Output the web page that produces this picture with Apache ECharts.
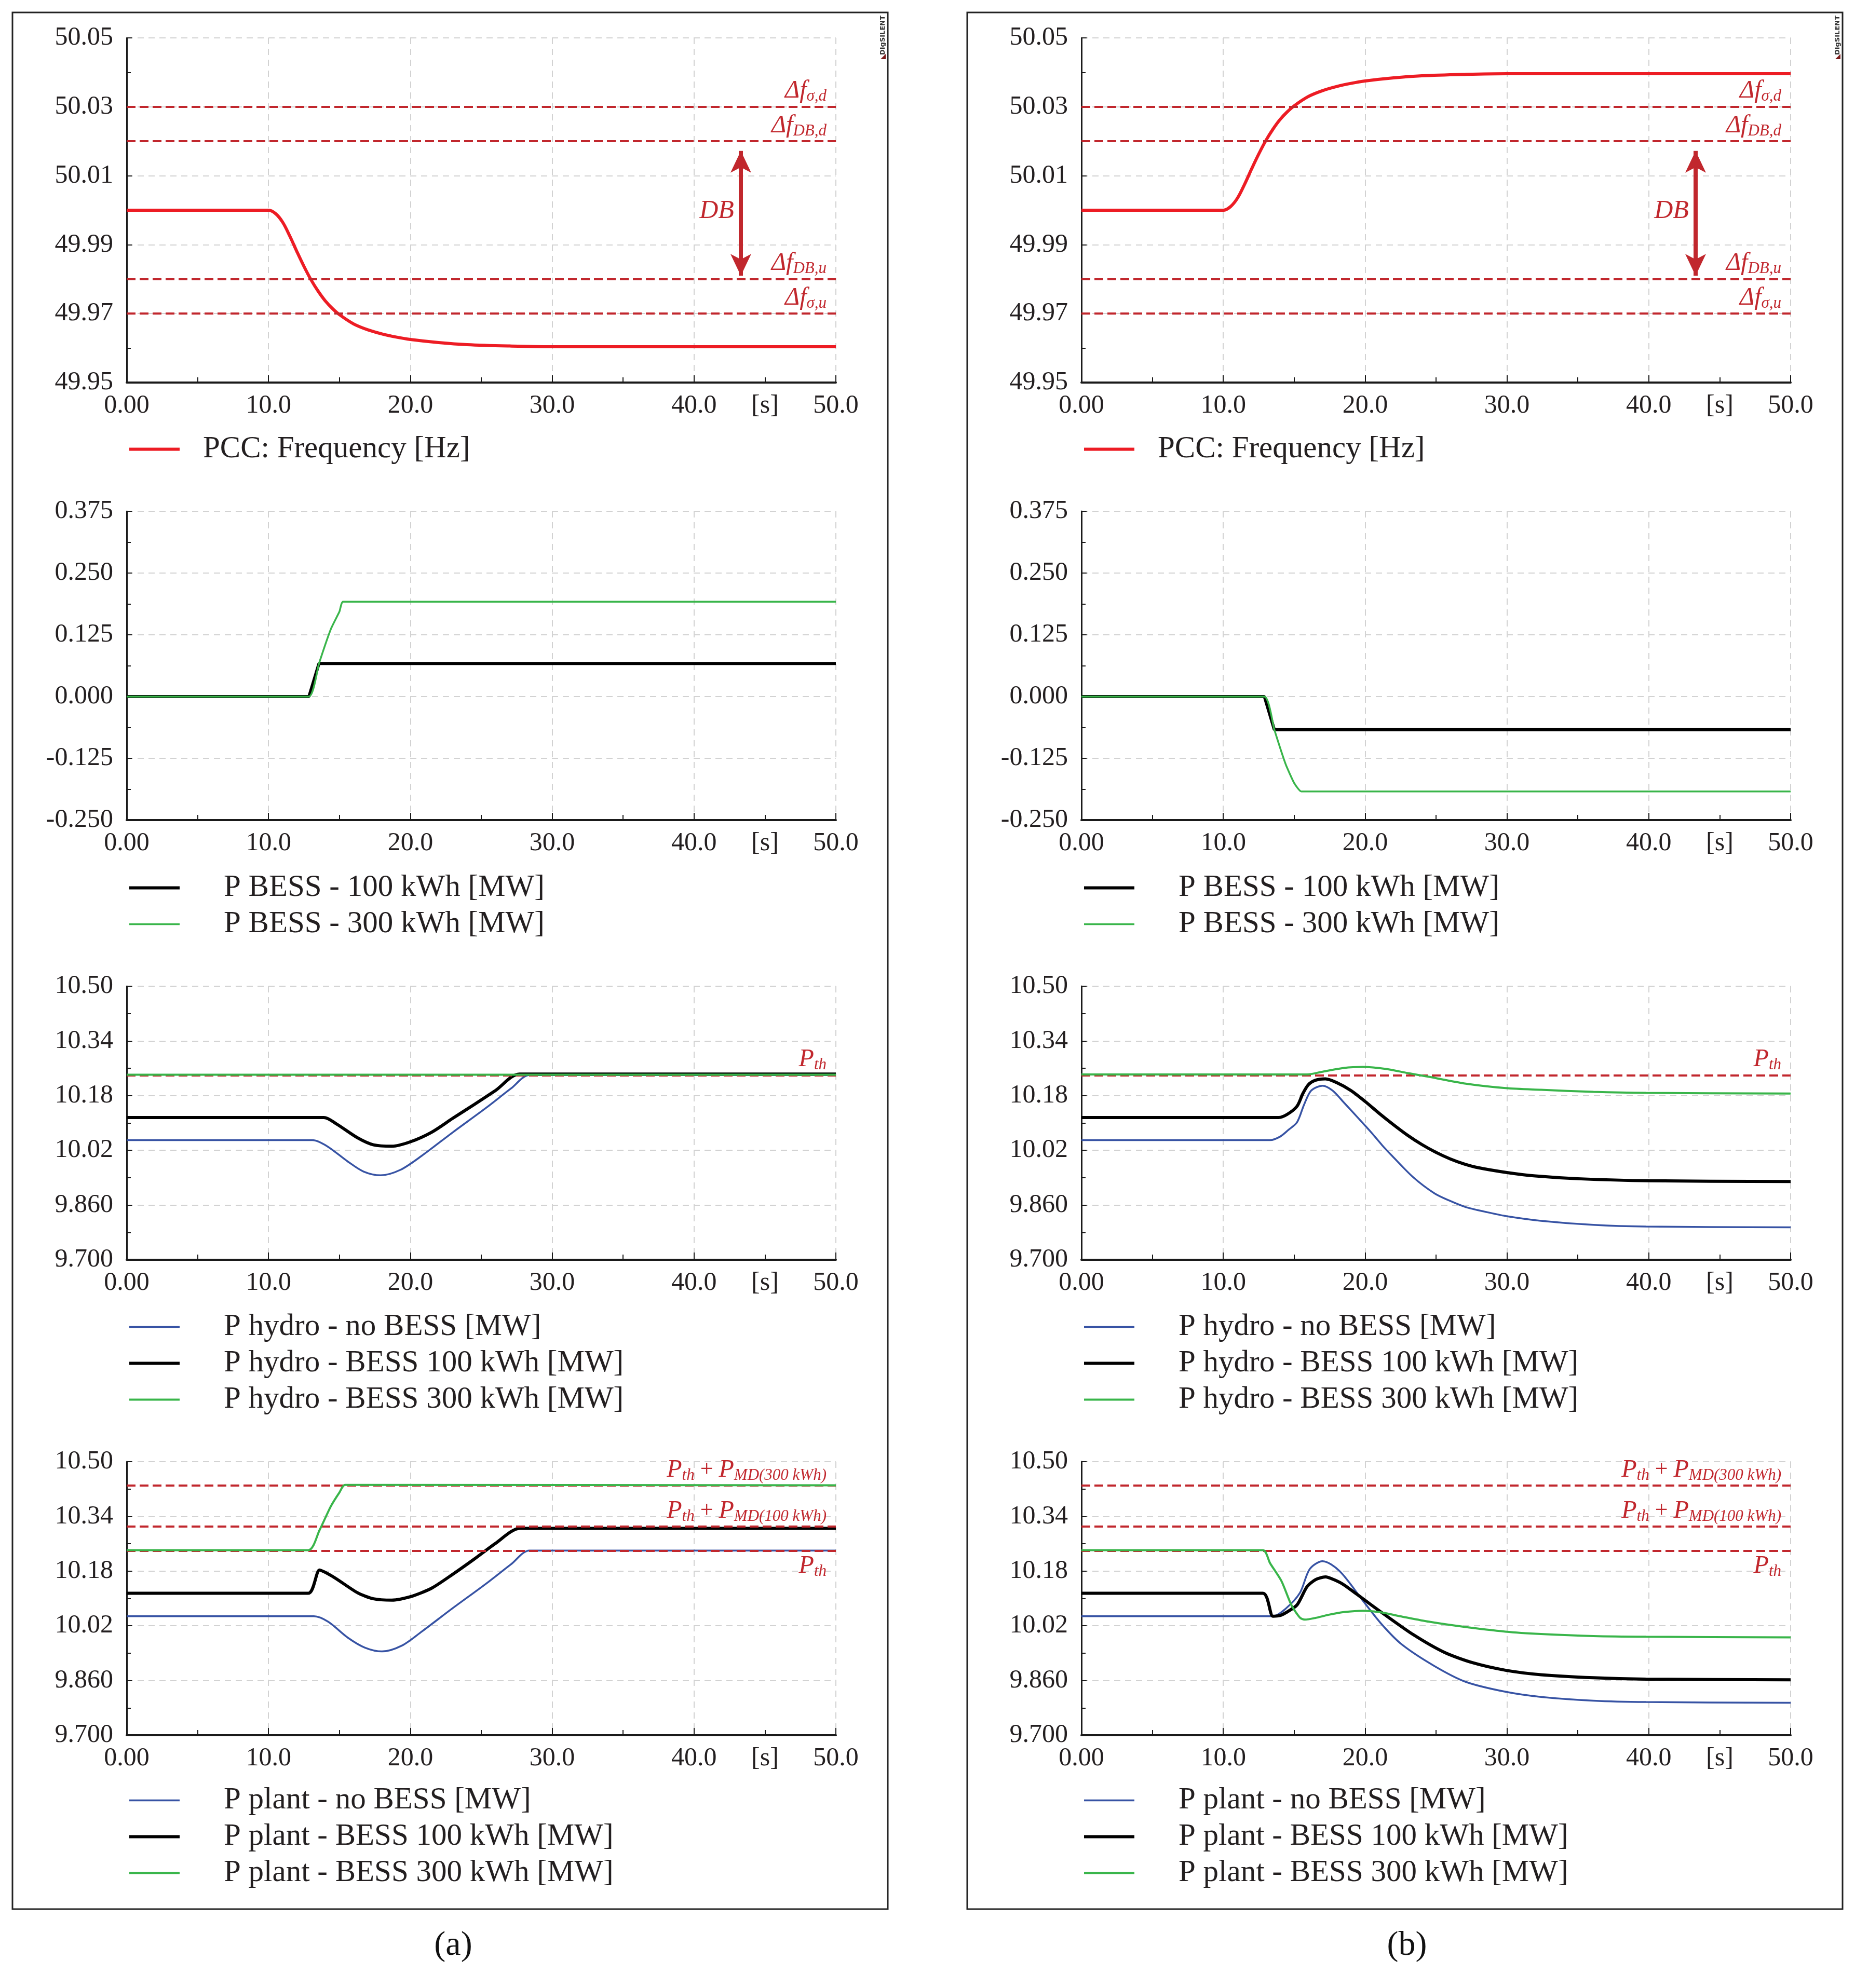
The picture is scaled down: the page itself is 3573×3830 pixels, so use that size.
<!DOCTYPE html>
<html>
<head>
<meta charset="utf-8">
<script src="https://cdn.jsdelivr.net/npm/echarts@6/dist/echarts.min.js"></script>
<style>
html, body { margin: 0; padding: 0; background: #fff; }
#chart { width: 3573px; height: 3830px; }
</style>
</head>
<body>
<div id="chart"></div>
<script>
// ---- axes ----
const timeTicks = [0, 10, 20, 30, 40, 50];
const timeMinor = [5, 15, 25, 35, 45];
const timeLabels = [0, 10, 20, 30, 40, 45, 50];

const freqTicks = [49.95, 49.97, 49.99, 50.01, 50.03, 50.05];
const freqMinor = [49.96, 49.98, 50.00, 50.02, 50.04];
const bessTicks = [-0.25, -0.125, 0, 0.125, 0.25, 0.375];
const bessMinor = [-0.1875, -0.0625, 0.0625, 0.1875, 0.3125];
const powerTicks = [9.70, 9.86, 10.02, 10.18, 10.34, 10.50];
const powerMinor = [9.78, 9.94, 10.10, 10.26, 10.42];

// ---- reference levels ----
const freqLimits = [50.03, 50.02, 49.98, 49.97];
const freqLimitSubs = ['σ,d', 'DB,d', 'DB,u', 'σ,u'];
const dbArrow = [43.3, 50.0172, 49.981];   // t, top, bottom
const pTh = 10.24;
const pThMD100 = 10.307;
const pThMD300 = 10.432;

// ---- (a) frequency drop ----
const freqA = [[0,50.0],[10,50.0],[10.5,49.999],[11,49.9965],[11.5,49.9925],[12,49.988],[12.5,49.9837],[13,49.9798],[13.5,49.9765],[14,49.9737],[14.5,49.9715],[15,49.9697],[16,49.967],[17,49.9653],[18,49.9641],[19,49.9632],[20,49.9625],[22,49.9616],[24,49.961],[27,49.9606],[30,49.9604],[50,49.9604]];
const bessA100 = [[0,0],[12.85,0],[13.56,0.067],[50,0.067]];
const bessA300 = [[0,0],[12.85,0],[13.56,0.067],[14.4,0.137],[15.0,0.172],[15.25,0.192],[50,0.192]];
const hydroA0 = [[0,10.05],[13.1,10.05],[14.1,10.033],[15.6,9.987],[16.7,9.958],[17.9,9.947],[19.3,9.963],[20.8,10.004],[23.0,10.073],[25.3,10.143],[27.1,10.201],[28.4,10.24],[50,10.24]];
const hydroA100 = [[0,10.116],[13.9,10.116],[14.8,10.097],[16.3,10.056],[17.4,10.036],[18.7,10.032],[20.0,10.045],[21.5,10.073],[23.0,10.114],[24.5,10.154],[26.0,10.195],[27.7,10.243],[50,10.243]];
const hydroA300 = [[0,10.241],[50,10.241]];
const plantA0 = [[0,10.048],[13.2,10.048],[14.2,10.032],[15.6,9.985],[16.8,9.956],[18.0,9.945],[19.4,9.962],[20.8,10.003],[23.0,10.072],[25.3,10.142],[27.1,10.200],[28.4,10.24],[50,10.24]];
const plantA100 = [[0,10.115],[12.8,10.115],[13.6,10.183],[14.2,10.172],[14.8,10.157],[16.3,10.116],[17.4,10.099],[18.7,10.095],[20.0,10.105],[21.5,10.130],[23.0,10.171],[24.5,10.215],[26.0,10.261],[27.7,10.305],[50,10.305]];
const plantA300 = [[0,10.241],[12.8,10.241],[13.6,10.30],[14.4,10.37],[15.0,10.41],[15.4,10.432],[50,10.431]];

// ---- (b) frequency rise ----
const freqB = [[0,50.0],[10,50.0],[10.5,50.001],[11,50.0035],[11.5,50.0075],[12,50.012],[12.5,50.0163],[13,50.0202],[13.5,50.0235],[14,50.0263],[14.5,50.0285],[15,50.0303],[16,50.033],[17,50.0347],[18,50.0359],[19,50.0368],[20,50.0375],[22,50.0384],[24,50.039],[27,50.0394],[30,50.0396],[50,50.0396]];
const bessB100 = [[0,0],[12.9,0],[13.6,-0.067],[50,-0.067]];
const bessB300 = [[0,0],[12.9,0],[13.6,-0.067],[14.4,-0.137],[15.0,-0.175],[15.5,-0.192],[50,-0.192]];
const hydroB0 = [[0,10.05],[13.3,10.05],[14.0,10.06],[14.6,10.08],[15.2,10.102],[15.7,10.154],[16.2,10.195],[17.0,10.209],[17.7,10.195],[18.5,10.160],[19.5,10.115],[20.4,10.074],[21.2,10.035],[21.9,10.004],[23.4,9.941],[24.9,9.894],[26.0,9.872],[27.1,9.854],[28.5,9.840],[29.9,9.828],[32.4,9.814],[36.1,9.802],[39.8,9.797],[50,9.795]];
const hydroB100 = [[0,10.116],[13.9,10.116],[14.5,10.125],[15.2,10.149],[15.6,10.185],[16.0,10.212],[16.5,10.225],[17.2,10.229],[18.0,10.218],[19.0,10.195],[20.0,10.163],[21.0,10.128],[22.0,10.095],[23.0,10.064],[24.0,10.037],[25.0,10.014],[26.0,9.995],[27.0,9.980],[28.0,9.969],[30.0,9.955],[32.0,9.945],[35.0,9.937],[40.0,9.931],[50,9.929]];
const hydroB300 = [[0,10.242],[15.9,10.242],[17.0,10.250],[18.5,10.261],[19.85,10.264],[21.5,10.258],[23.0,10.246],[24.5,10.235],[27.1,10.215],[29.9,10.202],[32.4,10.197],[36.1,10.191],[39.8,10.188],[50,10.186]];
const plantB0 = [[0,10.048],[13.5,10.048],[14.4,10.070],[15.4,10.116],[16.1,10.186],[17.0,10.209],[18.2,10.180],[19.85,10.093],[21.2,10.023],[22.6,9.965],[24.9,9.902],[27.1,9.856],[29.9,9.827],[32.4,9.812],[36.1,9.801],[39.8,9.797],[50,9.795]];
const plantB100 = [[0,10.115],[12.8,10.115],[13.5,10.048],[14.0,10.050],[14.4,10.058],[15.2,10.081],[15.9,10.134],[16.5,10.155],[17.2,10.163],[17.8,10.155],[18.5,10.140],[19.85,10.099],[21.2,10.058],[23.4,9.994],[25.6,9.942],[27.5,9.913],[29.9,9.890],[32.4,9.877],[36.1,9.868],[39.8,9.864],[50,9.862]];
const plantB300 = [[0,10.241],[12.8,10.241],[13.3,10.203],[14.1,10.151],[14.8,10.081],[15.4,10.044],[15.75,10.038],[16.5,10.043],[17.4,10.052],[18.5,10.060],[19.85,10.064],[21.0,10.060],[22.6,10.047],[24.5,10.032],[26.8,10.018],[29.9,10.003],[32.4,9.996],[36.1,9.990],[39.8,9.988],[50,9.986]];

const FONT = '"Liberation Serif", "DejaVu Serif", serif';
const TXT = '#231f20';
const RED = '#ED1C24', DRED = '#C1272D', GREEN = '#39B54A', BLUE = '#3753A4', BLACK = '#000000';

// layout (px)
const colLeft = [244, 2083];
const plotW = 1366;
const rows = [
    { top: 73, h: 664, legendTop: 831, pad: 40 },
    { top: 985, h: 595, legendTop: 1676, pad: 80 },
    { top: 1900, h: 527, legendTop: 2522, pad: 80 },
    { top: 2816, h: 527, legendTop: 3434, pad: 80 }
];

const annRich = {
    m: { fontFamily: FONT, fontStyle: 'italic', fontSize: 48, color: DRED, lineHeight: 52 },
    s: { fontFamily: FONT, fontStyle: 'italic', fontSize: 31, color: DRED, lineHeight: 38, verticalAlign: 'bottom' },
    p: { fontFamily: FONT, fontSize: 44, color: DRED, lineHeight: 52 }
};

const grids = [], xAxes = [], yAxes = [], series = [], legends = [];

function fmtTime (v) {
    if (v === 0) return '0.00';
    if (v === 45) return '[s]';
    return v.toFixed(1);
}

// plain line for legend, as thick as the series line
function lineIcon (w) {
    return 'path://M0,0H97V' + w + 'H0Z';
}

function addPanel (col, row, yTicks, yMinor, yFmt, lines, markLine, markPoint) {
    const gi = grids.length;
    const r = rows[row];
    grids.push({ left: colLeft[col], top: r.top, width: plotW, height: r.h });
    const xi = xAxes.length;
    xAxes.push({
        type: 'value', gridIndex: gi, position: 'bottom', min: 0, max: 50,
        axisLine: { show: true, onZero: false, lineStyle: { color: '#1a1a1a', width: 4 } },
        axisTick: { show: true, inside: true, length: 14, customValues: timeTicks, lineStyle: { color: '#1a1a1a', width: 2 } },
        axisLabel: { customValues: timeLabels, formatter: fmtTime, fontSize: 50, fontFamily: FONT, color: TXT, margin: 20 },
        splitLine: { show: true, lineStyle: { color: '#d2d2d2', width: 2, type: [12, 9] } }
    });
    xAxes.push({
        type: 'value', gridIndex: gi, position: 'bottom', min: 0, max: 50,
        axisLine: { show: false, onZero: false }, axisLabel: { show: false }, splitLine: { show: false },
        axisTick: { show: true, inside: true, length: 10, customValues: timeMinor, lineStyle: { color: '#1a1a1a', width: 2 } }
    });
    const yi = yAxes.length;
    const ymin = yTicks[0], ymax = yTicks[yTicks.length - 1];
    yAxes.push({
        type: 'value', gridIndex: gi, position: 'left', min: ymin, max: ymax,
        axisLine: { show: true, onZero: false, lineStyle: { color: '#1a1a1a', width: 3 } },
        axisTick: { show: true, inside: true, length: 10, customValues: yTicks, lineStyle: { color: '#1a1a1a', width: 2 } },
        axisLabel: { customValues: yTicks, formatter: yFmt, fontSize: 50, fontFamily: FONT, color: TXT, margin: 26 },
        splitLine: { show: true, lineStyle: { color: '#d2d2d2', width: 2, type: [12, 9] } }
    });
    yAxes.push({
        type: 'value', gridIndex: gi, position: 'left', min: ymin, max: ymax,
        axisLine: { show: false, onZero: false }, axisLabel: { show: false }, splitLine: { show: false },
        axisTick: { show: true, inside: true, length: 8, customValues: yMinor, lineStyle: { color: '#1a1a1a', width: 2 } }
    });
    lines.forEach(function (l, i) {
        const s = {
            type: 'line', name: l.name, data: l.data, xAxisIndex: xi, yAxisIndex: yi,
            symbol: 'none', showSymbol: false, smooth: l.smooth || false,
            color: l.color, lineStyle: { color: l.color, width: l.width },
            z: 3 + i, animation: false
        };
        if (i === 0 && markLine) s.markLine = markLine;
        if (i === 0 && markPoint) s.markPoint = markPoint;
        series.push(s);
    });
    legends.push({
        orient: 'vertical', left: colLeft[col], top: r.legendTop,
        itemWidth: 97, itemHeight: 14, itemGap: 11, selectedMode: false,
        data: lines.map(function (l) { return { name: l.name, icon: lineIcon(l.width) }; }),
        textStyle: { fontFamily: FONT, fontSize: 59, color: TXT, lineHeight: 58, padding: [0, 0, 0, r.pad] }
    });
}

const fmt2 = function (v) { return v.toFixed(2); };
const fmt3 = function (v) { return v.toFixed(3); };
const fmtP = function (v) { return v >= 10 ? v.toFixed(2) : v.toFixed(3); };

function freqMarkLine () {
    const data = freqLimits.map(function (v, i) {
        return { yAxis: v, label: { formatter: '{m|Δf}{s|' + freqLimitSubs[i] + '}' } };
    });
    data.push([
        { coord: [dbArrow[0], dbArrow[1]], symbol: 'arrow', symbolSize: [30, 42],
          lineStyle: { type: 'solid', width: 8, color: DRED }, label: { show: false } },
        { coord: [dbArrow[0], dbArrow[2]], symbol: 'arrow', symbolSize: [30, 42],
          lineStyle: { type: 'solid', width: 8, color: DRED }, label: { show: false } }
    ]);
    return {
        silent: true, animation: false, symbol: ['none', 'none'],
        lineStyle: { color: DRED, width: 4, type: [17, 8] },
        label: { show: true, position: 'insideEndTop', distance: [18, 4], rich: annRich },
        emphasis: { disabled: true },
        data: data
    };
}
function dbPoint () {
    return {
        silent: true, animation: false, symbol: 'rect', symbolSize: 0,
        data: [{ coord: [41.6, 49.9997], label: { show: true, position: 'inside', formatter: 'DB',
            fontFamily: FONT, fontStyle: 'italic', fontSize: 50, color: DRED } }]
    };
}
function thLine (withMD) {
    const data = [];
    if (withMD) {
        data.push({ yAxis: pThMD300, label: { formatter: '{m|P}{s|th}{p| + }{m|P}{s|MD(300 kWh)}' } });
        data.push({ yAxis: pThMD100, label: { formatter: '{m|P}{s|th}{p| + }{m|P}{s|MD(100 kWh)}' } });
        data.push({ yAxis: pTh, label: { position: 'insideEndBottom', formatter: '{m|P}{s|th}' } });
    } else {
        data.push({ yAxis: pTh, label: { formatter: '{m|P}{s|th}' } });
    }
    return {
        silent: true, animation: false, symbol: ['none', 'none'],
        lineStyle: { color: DRED, width: 4, type: [17, 8] },
        label: { show: true, position: 'insideEndTop', distance: [18, 4], rich: annRich },
        emphasis: { disabled: true },
        data: data
    };
}

const sets = [
    { freq: freqA, b100: bessA100, b300: bessA300, h0: hydroA0, h100: hydroA100, h300: hydroA300, p0: plantA0, p100: plantA100, p300: plantA300 },
    { freq: freqB, b100: bessB100, b300: bessB300, h0: hydroB0, h100: hydroB100, h300: hydroB300, p0: plantB0, p100: plantB100, p300: plantB300 }
];

sets.forEach(function (d, col) {
    addPanel(col, 0, freqTicks, freqMinor, fmt2, [
        { name: 'PCC: Frequency [Hz]', data: d.freq, color: RED, width: 6, smooth: 0.35 }
    ], freqMarkLine(), dbPoint());
    addPanel(col, 1, bessTicks, bessMinor, fmt3, [
        { name: 'P BESS - 100 kWh [MW]', data: d.b100, color: BLACK, width: 6 },
        { name: 'P BESS - 300 kWh [MW]', data: d.b300, color: GREEN, width: 3.5, smooth: 0.15 }
    ]);
    addPanel(col, 2, powerTicks, powerMinor, fmtP, [
        { name: 'P hydro - no BESS [MW]', data: d.h0, color: BLUE, width: 3.5, smooth: 0.3 },
        { name: 'P hydro - BESS 100 kWh [MW]', data: d.h100, color: BLACK, width: 6, smooth: 0.3 },
        { name: 'P hydro - BESS 300 kWh [MW]', data: d.h300, color: GREEN, width: 4, smooth: 0.3 }
    ], null, null);
    addPanel(col, 3, powerTicks, powerMinor, fmtP, [
        { name: 'P plant - no BESS [MW]', data: d.p0, color: BLUE, width: 3.5, smooth: 0.3 },
        { name: 'P plant - BESS 100 kWh [MW]', data: d.p100, color: BLACK, width: 6, smooth: 0.25 },
        { name: 'P plant - BESS 300 kWh [MW]', data: d.p300, color: GREEN, width: 4, smooth: 0.25 }
    ], null, null);
});

// Pth reference lines go on the first series of hydro and plant panels
series.forEach(function (s) {
    if (s.name === 'P hydro - no BESS [MW]') s.markLine = thLine(false);
    if (s.name === 'P plant - no BESS [MW]') s.markLine = thLine(true);
});

const graphic = [];
[24, 1863].forEach(function (x, i) {
    graphic.push({ type: 'rect', silent: true, shape: { x: x, y: 24, width: 1686, height: 3654 },
        style: { fill: 'none', stroke: '#222', lineWidth: 3 } });
    graphic.push({ type: 'text', silent: true, x: x + 1677, y: 68, rotation: Math.PI / 2,
        style: { text: 'DIgSILENT', fontSize: 13, fontWeight: 'bold', fontFamily: 'DejaVu Sans', fill: '#333', align: 'center', verticalAlign: 'middle' } });
    graphic.push({ type: 'polygon', silent: true,
        shape: { points: [[x + 1682, 104], [x + 1682, 114], [x + 1672, 114]] }, style: { fill: '#7a1a1a' } });
    graphic.push({ type: 'text', silent: true, x: i === 0 ? 873 : 2710, y: 3749,
        style: { text: i === 0 ? '(a)' : '(b)', fontSize: 66, fontFamily: FONT, fill: '#111', align: 'center', verticalAlign: 'middle' } });
});

const chart = echarts.init(document.getElementById('chart'), null, { renderer: 'canvas' });
chart.setOption({
    backgroundColor: '#ffffff',
    animation: false,
    grid: grids,
    xAxis: xAxes,
    yAxis: yAxes,
    legend: legends,
    series: series,
    graphic: graphic
});
</script>
</body>
</html>
